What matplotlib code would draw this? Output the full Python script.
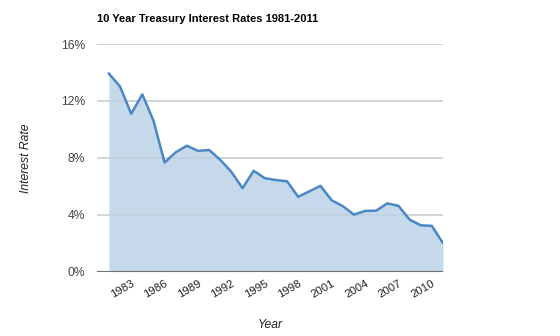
import numpy as np
import matplotlib
matplotlib.use('Agg')
import matplotlib.pyplot as plt

# 10-year treasury rates (%)
years = list(range(1981, 2012))
rates = [13.92, 13.01, 11.10, 12.46, 10.62, 7.67, 8.39, 8.85, 8.49, 8.55,
         7.86, 7.01, 5.87, 7.09, 6.57, 6.44, 6.35, 5.26, 5.65, 6.03,
         5.02, 4.61, 4.01, 4.27, 4.29, 4.80, 4.63, 3.66, 3.26, 3.22, 2.00]
tick_years = [1983, 1986, 1989, 1992, 1995, 1998, 2001, 2004, 2007, 2010]
y_ticks = [0, 4, 8, 12, 16]

plt.rcParams['font.family'] = ['Liberation Sans', 'DejaVu Sans']

fig = plt.figure(figsize=(5.6, 3.36), dpi=100)
ax = fig.add_axes([97 / 560, 1 - 271.7 / 336, 346 / 560, (271.7 - 44) / 336])

ax.fill_between(years, rates, 0, color='#c6d9ea', lw=0, zorder=2)
ax.plot(years, rates, color='#4a87c6', lw=1.8, zorder=3, solid_joinstyle='round')

for v in y_ticks[1:]:
    ax.axhline(v, color='#d9d9d9', lw=1.3, zorder=1)
    ax.axhline(v, color='#b8c6d4', lw=1.3, zorder=2.5, alpha=0.35)
ax.axhline(0, color='#707070', lw=1.5, zorder=4)

ax.set_xlim(1979.93, 2011)
ax.set_ylim(0, 16)
ax.set_yticks(y_ticks)
ax.set_yticklabels([f'{v}%' for v in y_ticks], color='#444444', fontsize=8.7)
ax.set_xticks(tick_years)
ax.set_xticklabels([str(y) for y in tick_years], rotation=30, ha='right',
                   rotation_mode='anchor', color='#222222', fontsize=8.2)
ax.tick_params(axis='both', length=0)
ax.tick_params(axis='y', pad=8.6)
ax.tick_params(axis='x', pad=5)

for s in ax.spines.values():
    s.set_visible(False)

ax.set_ylabel('Interest Rate', fontstyle='italic', fontsize=8.7, color='#222222', labelpad=21)
ax.set_xlabel('Year', fontstyle='italic', fontsize=8.7, color='#222222', labelpad=14)
fig.text(97 / 560, 1 - 19 / 336, '10 Year Treasury Interest Rates 1981-2011',
         fontsize=8, fontweight='bold', va='center', ha='left', color='#000000')

plt.savefig('out.png', dpi=100)
